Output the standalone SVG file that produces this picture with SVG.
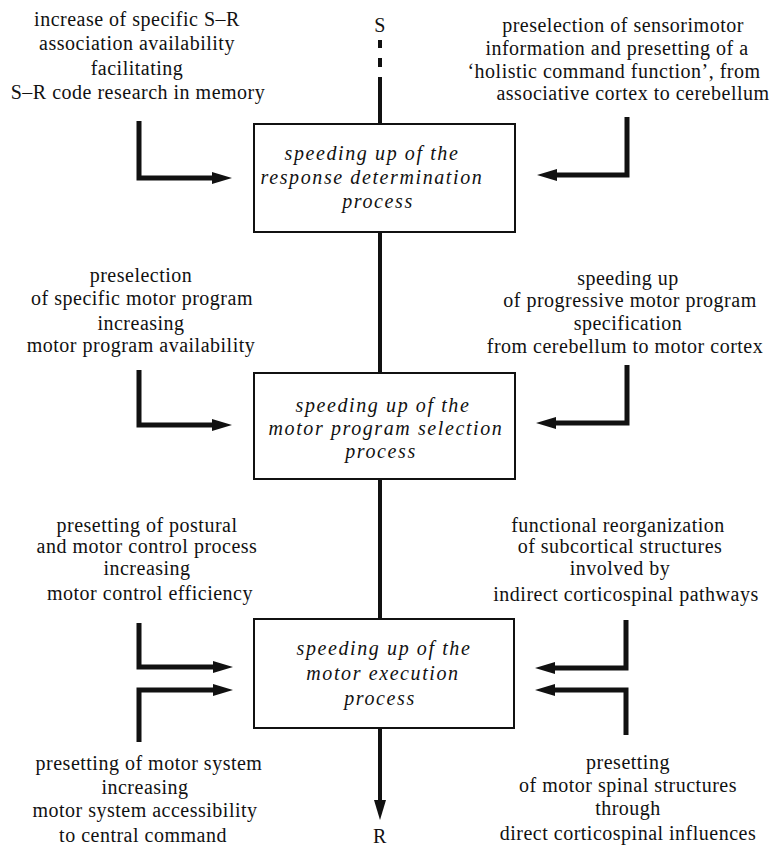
<svg xmlns="http://www.w3.org/2000/svg" width="776" height="847" viewBox="0 0 776 847">
<style>
  .lbl { font-family: "Liberation Serif", "Times New Roman", serif; font-size: 20px; letter-spacing: 0.5px; fill: #111; text-anchor: middle; }
  .box { fill: #fff; stroke: #111; stroke-width: 2; }
  .btxt { font-family: "Liberation Serif", "Times New Roman", serif; font-size: 20px; font-style: italic; letter-spacing: 1.6px; fill: #111; text-anchor: middle; }
  .main { fill: none; stroke: #111; stroke-width: 4; }
  .larr { fill: none; stroke: #111; stroke-width: 5; stroke-linejoin: miter; stroke-linecap: butt; }
</style>
<defs>
  <marker id="ah" viewBox="0 0 20 12" refX="2" refY="6" markerWidth="20" markerHeight="12" markerUnits="userSpaceOnUse" orient="auto">
    <path d="M0,0 L20,6 L0,12 z" fill="#111"/>
  </marker>
</defs>

<g id="connectors">
  <line class="main" x1="380" y1="40" x2="380" y2="48"/>
  <line class="main" x1="380" y1="58" x2="380" y2="67"/>
  <line class="main" x1="380" y1="77" x2="380" y2="124"/>
  <line class="main" x1="380" y1="232" x2="380" y2="373"/>
  <line class="main" x1="380" y1="479" x2="380" y2="619"/>
  <line class="main" x1="380" y1="728" x2="380" y2="802" marker-end="url(#ah)"/>
  <path class="larr" d="M139,121 V178 H214" marker-end="url(#ah)"/>
  <path class="larr" d="M627,117 V175 H555" marker-end="url(#ah)"/>
  <path class="larr" d="M139,370 V425 H214" marker-end="url(#ah)"/>
  <path class="larr" d="M627,365 V423 H554" marker-end="url(#ah)"/>
  <path class="larr" d="M139,623 V667 H215" marker-end="url(#ah)"/>
  <path class="larr" d="M139,742 V690 H215" marker-end="url(#ah)"/>
  <path class="larr" d="M626,620 V668 H553" marker-end="url(#ah)"/>
  <path class="larr" d="M626,735 V690 H553" marker-end="url(#ah)"/>
</g>

<g id="S">
  <text class="lbl" x="380" y="32">S</text>
</g>
<g id="R">
  <text class="lbl" x="380" y="843">R</text>
</g>

<g id="box1">
  <rect class="box" x="254" y="124" width="261" height="108"/>
  <text class="btxt" x="372" y="160">speeding up of the</text>
  <text class="btxt" x="372" y="184">response determination</text>
  <text class="btxt" x="378" y="208">process</text>
</g>
<g id="box2">
  <rect class="box" x="254" y="373" width="261" height="106"/>
  <text class="btxt" x="383" y="412">speeding up of the</text>
  <text class="btxt" x="386" y="435">motor program selection</text>
  <text class="btxt" x="381" y="458">process</text>
</g>
<g id="box3">
  <rect class="box" x="254" y="619" width="260" height="109"/>
  <text class="btxt" x="384" y="655">speeding up of the</text>
  <text class="btxt" x="383" y="680">motor execution</text>
  <text class="btxt" x="380" y="705">process</text>
</g>

<g id="label-top-left">
  <text class="lbl" x="137" y="26">increase of specific S–R</text>
  <text class="lbl" x="137" y="50">association availability</text>
  <text class="lbl" x="137" y="75">facilitating</text>
  <text class="lbl" x="138" y="99">S–R code research in memory</text>
</g>
<g id="label-top-right">
  <text class="lbl" x="623" y="32">preselection of sensorimotor</text>
  <text class="lbl" x="617" y="55">information and presetting of a</text>
  <text class="lbl" x="614" y="78">‘holistic command function’, from</text>
  <text class="lbl" x="633" y="100">associative cortex to cerebellum</text>
</g>
<g id="label-mid-left">
  <text class="lbl" x="141" y="282">preselection</text>
  <text class="lbl" x="142" y="305">of specific motor program</text>
  <text class="lbl" x="141" y="330">increasing</text>
  <text class="lbl" x="141" y="352">motor program availability</text>
</g>
<g id="label-mid-right">
  <text class="lbl" x="628" y="285">speeding up</text>
  <text class="lbl" x="630" y="307">of progressive motor program</text>
  <text class="lbl" x="628" y="330">specification</text>
  <text class="lbl" x="625" y="353">from cerebellum to motor cortex</text>
</g>
<g id="label-low-left">
  <text class="lbl" x="147" y="532">presetting of postural</text>
  <text class="lbl" x="147" y="553">and motor control process</text>
  <text class="lbl" x="147" y="575">increasing</text>
  <text class="lbl" x="150" y="600">motor control efficiency</text>
</g>
<g id="label-low-right">
  <text class="lbl" x="618" y="532">functional reorganization</text>
  <text class="lbl" x="620" y="553">of subcortical structures</text>
  <text class="lbl" x="620" y="575">involved by</text>
  <text class="lbl" x="626" y="601">indirect corticospinal pathways</text>
</g>
<g id="label-bottom-left">
  <text class="lbl" x="149" y="770">presetting of motor system</text>
  <text class="lbl" x="145" y="794">increasing</text>
  <text class="lbl" x="145" y="817">motor system accessibility</text>
  <text class="lbl" x="143" y="842">to central command</text>
</g>
<g id="label-bottom-right">
  <text class="lbl" x="628" y="769">presetting</text>
  <text class="lbl" x="628" y="792">of motor spinal structures</text>
  <text class="lbl" x="628" y="815">through</text>
  <text class="lbl" x="628" y="840">direct corticospinal influences</text>
</g>
</svg>
